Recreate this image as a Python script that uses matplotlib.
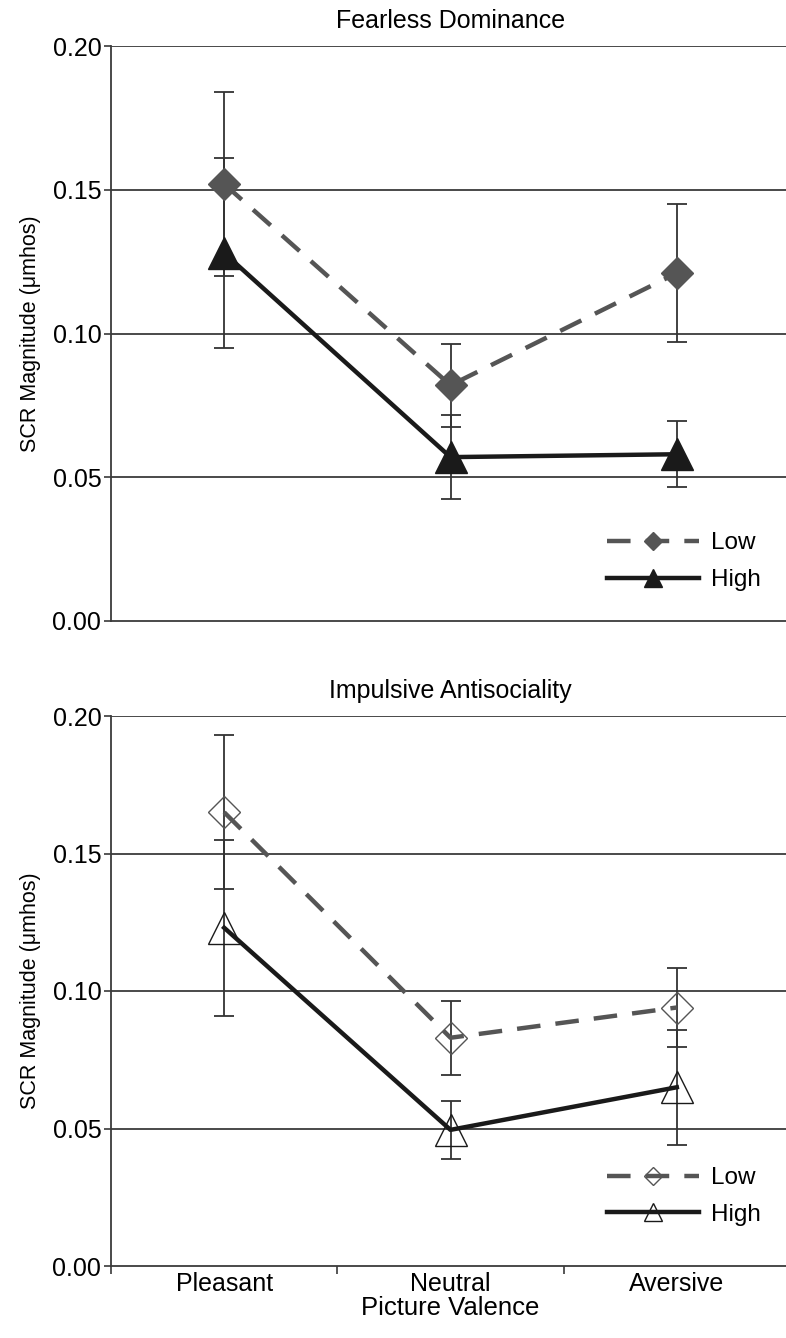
import numpy as np
import matplotlib
matplotlib.use("Agg")
import matplotlib.pyplot as plt

plt.rcParams['font.family'] = ['Liberation Sans', 'DejaVu Sans']

# Data
categories = ["Pleasant", "Neutral", "Aversive"]
yticks = [0.00, 0.05, 0.10, 0.15, 0.20]

# Fearless Dominance
fd_low = [0.152, 0.082, 0.121]
fd_low_err = [0.032, 0.0145, 0.024]
fd_high = [0.128, 0.057, 0.058]
fd_high_err = [0.033, 0.0145, 0.0115]

# Impulsive Antisociality
ia_low = [0.165, 0.083, 0.094]
ia_low_err = [0.028, 0.0135, 0.0145]
ia_high = [0.123, 0.0495, 0.065]
ia_high_err = [0.032, 0.0105, 0.021]

LOW_C = "#555555"
HIGH_C = "#1a1a1a"
GRID_C = "#3a3a3a"

fig = plt.figure(figsize=(7.86, 13.38), dpi=100)


def panel(ax, title, low, low_err, high, high_err, filled, show_x, leg_y):
    x = np.arange(len(categories))
    for yv in yticks[1:]:
        ax.axhline(yv, color=GRID_C, lw=1.3, zorder=0)

    # error bars
    ax.errorbar(x, low, yerr=low_err, fmt="none", ecolor="#333333",
                elinewidth=1.3, capsize=7, capthick=1.3, zorder=2)
    ax.errorbar(x, high, yerr=high_err, fmt="none", ecolor="#333333",
                elinewidth=1.3, capsize=7, capthick=1.3, zorder=2)

    if filled:
        low_kw = dict(markerfacecolor=LOW_C, markeredgecolor=LOW_C)
        high_kw = dict(markerfacecolor=HIGH_C, markeredgecolor=HIGH_C)
    else:
        low_kw = dict(markerfacecolor="none", markeredgecolor=LOW_C, markeredgewidth=1.0)
        high_kw = dict(markerfacecolor="none", markeredgecolor=HIGH_C, markeredgewidth=1.0)

    l1, = ax.plot(x, low, color=LOW_C, lw=3.2, ls=(0, (5.3, 3.4)),
                  marker="D", markersize=16.5, zorder=3, label="Low", **low_kw)
    l2, = ax.plot(x, high, color=HIGH_C, lw=3.2, ls="-",
                  marker="^", markersize=23, zorder=3, label="High", **high_kw)

    ax.set_xlim(-0.5, 2.5)
    ax.set_ylim(0, 0.20)
    ax.set_yticks(yticks)
    ax.set_yticklabels(["%.2f" % v for v in yticks], fontsize=18)
    ax.tick_params(axis="y", direction="out", length=5, width=1.2, color=GRID_C, pad=2)

    if show_x:
        ax.set_xticks([-0.5, 0.5, 1.5, 2.5])
        ax.set_xticklabels([])
        ax.tick_params(axis="x", direction="out", length=6, width=1.2, color=GRID_C)
        ax.set_xticks(x, minor=True)
        ax.set_xticklabels(categories, minor=True, fontsize=18)
        ax.tick_params(axis="x", which="minor", length=0, pad=4)
        ax.set_xlabel("Picture Valence", fontsize=18.5, labelpad=0)
    else:
        ax.set_xticks([])

    for s in ["top", "right"]:
        ax.spines[s].set_visible(False)
    for s in ["left", "bottom"]:
        ax.spines[s].set_color(GRID_C)
        ax.spines[s].set_linewidth(1.3)

    ax.set_ylabel("SCR Magnitude (\u03bcmhos)", fontsize=15.5, labelpad=8)
    ax.set_title(title, fontsize=18, pad=13)

    ax.legend(handles=[l1, l2], loc="lower right", bbox_to_anchor=(0.99, leg_y),
              frameon=False, fontsize=17.5, handlelength=3.8, numpoints=1,
              markerscale=0.55, labelspacing=0.6, handletextpad=0.5)
    return ax


ax1 = fig.add_axes([111 / 786, 1 - 621 / 1338, 679 / 786, 575 / 1338])
panel(ax1, "Fearless Dominance", fd_low, fd_low_err, fd_high, fd_high_err, True, False, 0.014)

ax2 = fig.add_axes([111 / 786, 1 - 1266 / 1338, 679 / 786, 550 / 1338])
panel(ax2, "Impulsive Antisociality", ia_low, ia_low_err, ia_high, ia_high_err, False, True, 0.033)

fig.savefig("out.png", dpi=100)
